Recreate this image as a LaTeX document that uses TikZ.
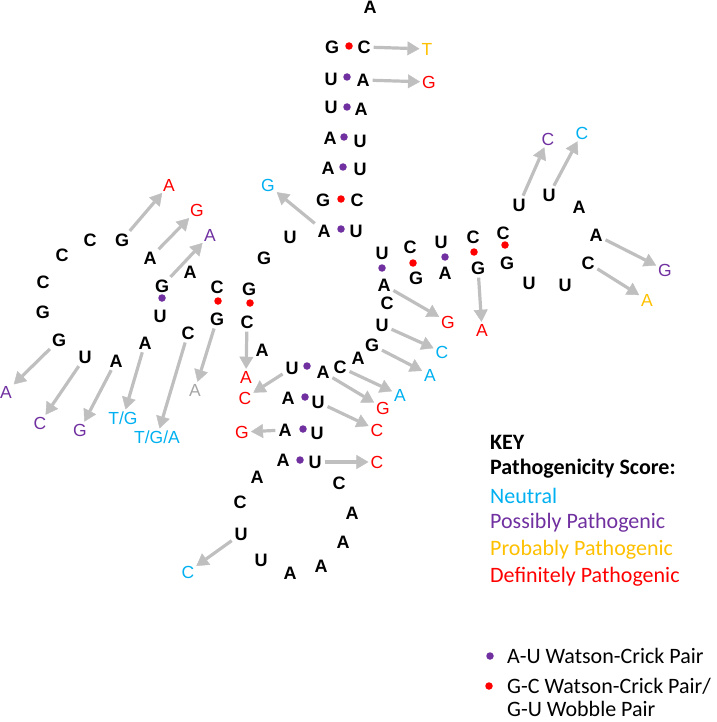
\documentclass[tikz,border=0pt]{standalone}
\usepackage{fontspec}
\setmainfont{Liberation Sans}
\newfontfamily\keyfont{Carlito}
\usepackage{tikz}
\usetikzlibrary{arrows.meta}

\definecolor{neutral}{HTML}{00B0F0}
\definecolor{possibly}{HTML}{7030A0}
\definecolor{probably}{HTML}{FFC000}
\definecolor{definitely}{HTML}{FF0000}
\definecolor{arrowgray}{HTML}{BFBFBF}
\definecolor{lightgray}{HTML}{A6A6A6}

\begin{document}
\begin{tikzpicture}[x=1pt,y=-1pt,
	nt/.style={font=\fontsize{18}{18}\selectfont\bfseries,inner sep=1pt},
	mutlabel/.style={font=\fontsize{17.5}{17.5}\selectfont,inner sep=1pt},
	au/.style={circle,fill=possibly,inner sep=0pt,minimum size=7.5pt},
	gc/.style={circle,fill=definitely,inner sep=0pt,minimum size=7.5pt},
	mutarrow/.style={color=arrowgray,line width=3.2pt,
		-{Triangle[length=12pt,width=14pt,line width=0.4pt,fill=arrowgray]},
		shorten <=2pt,shorten >=1pt},
	keyline/.style={font=\keyfont\fontsize{22}{22}\selectfont,anchor=west,inner sep=0pt}]

	\useasboundingbox (0,0) rectangle (716,722);

	% acceptor stem
	\node[nt] (acA) at (370,7) {A};
	\node[nt] (ac1) at (332,47) {G};
	\node[nt] (ac2) at (331,79) {U};
	\node[nt] (ac3) at (331,107) {U};
	\node[nt] (ac4) at (330,138) {A};
	\node[nt] (ac5) at (328,168) {A};
	\node[nt] (ac6) at (323,200) {G};
	\node[nt] (ac7) at (324,231) {A};
	\node[nt] (ac1r) at (364,47) {C};
	\node[nt] (ac2r) at (363,80) {A};
	\node[nt] (ac3r) at (361,109) {A};
	\node[nt] (ac4r) at (360,141) {U};
	\node[nt] (ac5r) at (360,169) {U};
	\node[nt] (ac6r) at (357,200) {C};
	\node[nt] (ac7r) at (356,231) {U};
	\node[gc] (acd1) at (349,46) {};
	\node[au] (acd2) at (347,77) {};
	\node[au] (acd3) at (347,107) {};
	\node[au] (acd4) at (344,137) {};
	\node[au] (acd5) at (343,167) {};
	\node[gc] (acd6) at (341,199) {};
	\node[au] (acd7) at (341,229) {};

	% left arm
	\node[nt] (l1) at (290,237) {U};
	\node[nt] (l2) at (264,258) {G};
	\node[nt] (dt1) at (249,289) {G};
	\node[nt] (dt2) at (217,287) {C};
	\node[nt] (dt3) at (190,272) {A};
	\node[nt] (dt4) at (162,286) {G};
	\node[nt] (dt5) at (150,258) {A};
	\node[nt] (dl1) at (122,240) {G};
	\node[nt] (dl2) at (90,240) {C};
	\node[nt] (dl3) at (62,255) {C};
	\node[nt] (dl4) at (43,282) {C};
	\node[nt] (dl5) at (43,312) {G};
	\node[nt] (dl6) at (59,340) {G};
	\node[nt] (dl7) at (85,357) {U};
	\node[nt] (dl8) at (116,361) {A};
	\node[nt] (dl9) at (145,343) {A};
	\node[nt] (db1) at (160,316) {U};
	\node[nt] (db2) at (188,333) {C};
	\node[nt] (db3) at (217,319) {G};
	\node[nt] (db4) at (247,322) {C};
	\node[nt] (j1) at (262,350) {A};
	\node[gc] (dd1) at (250,303) {};
	\node[gc] (dd2) at (218,301) {};
	\node[au] (dd3) at (162,298) {};

	% anticodon arm
	\node[nt] (as1) at (292,368) {U};
	\node[nt] (as2) at (288,398) {A};
	\node[nt] (as3) at (285,430) {A};
	\node[nt] (as4) at (283,460) {A};
	\node[nt] (as1r) at (323,372) {A};
	\node[nt] (as2r) at (318,402) {U};
	\node[nt] (as3r) at (317,433) {U};
	\node[nt] (as4r) at (315,462) {U};
	\node[au] (asd1) at (307,366) {};
	\node[au] (asd2) at (305,397) {};
	\node[au] (asd3) at (303,429) {};
	\node[au] (asd4) at (300,460) {};
	\node[nt] (lp1) at (257,477) {A};
	\node[nt] (lp2) at (240,502) {C};
	\node[nt] (lp3) at (241,534) {U};
	\node[nt] (lp4) at (261,560) {U};
	\node[nt] (lp5) at (290,573) {A};
	\node[nt] (lp6) at (321,566) {A};
	\node[nt] (lp7) at (343,542) {A};
	\node[nt] (lp8) at (352,513) {A};
	\node[nt] (lp9) at (339,483) {C};

	% variable region
	\node[nt] (v1) at (340,367) {C};
	\node[nt] (v2) at (358,358) {A};
	\node[nt] (v3) at (372,345) {G};
	\node[nt] (v4) at (382,325) {U};
	\node[nt] (v5) at (387,303) {C};

	% right arm
	\node[nt] (tt1) at (382,253) {U};
	\node[nt] (tt2) at (410,247) {C};
	\node[nt] (tt3) at (441,242) {U};
	\node[nt] (tt4) at (473,237) {C};
	\node[nt] (tt5) at (503,233) {C};
	\node[nt] (tb1) at (384,285) {A};
	\node[nt] (tb2) at (416,278) {G};
	\node[nt] (tb3) at (445,273) {A};
	\node[nt] (tb4) at (478,268) {G};
	\node[nt] (tb5) at (507,263) {G};
	\node[au] (td1) at (382,268) {};
	\node[gc] (td2) at (413,263) {};
	\node[au] (td3) at (445,257) {};
	\node[gc] (td4) at (474,252) {};
	\node[gc] (td5) at (505,245) {};
	\node[nt] (tl1) at (529,283) {U};
	\node[nt] (tl2) at (565,285) {U};
	\node[nt] (tl3) at (588,263) {C};
	\node[nt] (tl4) at (596,235) {A};
	\node[nt] (tl5) at (579,207) {A};
	\node[nt] (tl6) at (549,195) {U};
	\node[nt] (tl7) at (519,205) {U};

	% variants
	\node[mutlabel,text=probably] (m1) at (427,49) {T};
	\node[mutlabel,text=definitely] (m2) at (429,82) {G};
	\node[mutlabel,text=neutral] (m3) at (268,185) {G};
	\node[mutlabel,text=definitely] (m4) at (169,185) {A};
	\node[mutlabel,text=definitely] (m5) at (197,210) {G};
	\node[mutlabel,text=possibly] (m6) at (210,235) {A};
	\node[mutlabel,text=possibly] (m7) at (6,392) {A};
	\node[mutlabel,text=possibly] (m8) at (40,423) {C};
	\node[mutlabel,text=possibly] (m9) at (80,430) {G};
	\node[mutlabel,text=neutral] (m10) at (123,418) {T/G};
	\node[mutlabel,text=neutral] (m11) at (157,437) {T/G/A};
	\node[mutlabel,text=lightgray] (m12) at (195,390) {A};
	\node[mutlabel,text=definitely] (m13) at (246,377) {A};
	\node[mutlabel,text=definitely] (m14) at (245,398) {C};
	\node[mutlabel,text=definitely] (m15) at (242,432) {G};
	\node[mutlabel,text=definitely] (m16) at (377,430) {C};
	\node[mutlabel,text=definitely] (m17) at (383,408) {G};
	\node[mutlabel,text=neutral] (m18) at (400,395) {A};
	\node[mutlabel,text=neutral] (m19) at (430,375) {A};
	\node[mutlabel,text=neutral] (m20) at (442,352) {C};
	\node[mutlabel,text=definitely] (m21) at (448,322) {G};
	\node[mutlabel,text=definitely] (m22) at (377,462) {C};
	\node[mutlabel,text=neutral] (m23) at (188,572) {C};
	\node[mutlabel,text=definitely] (m24) at (482,330) {A};
	\node[mutlabel,text=possibly] (m25) at (548,139) {C};
	\node[mutlabel,text=neutral] (m26) at (582,133) {C};
	\node[mutlabel,text=possibly] (m27) at (665,270) {G};
	\node[mutlabel,text=probably] (m28) at (647,300) {A};

	\path[mutarrow]
	(ac1r) edge (m1)
	(ac2r) edge (m2)
	(ac7) edge (m3)
	(dl1) edge (m4)
	(dt5) edge (m5)
	(dt4) edge (m6)
	(dl6) edge (m7)
	(dl7) edge (m8)
	(dl8) edge (m9)
	(dl9) edge (m10)
	(db2) edge (m11)
	(db3) edge (m12)
	(db4) edge (m13)
	(as1) edge (m14)
	(as3) edge (m15)
	(as2r) edge (m16)
	(as1r) edge (m17)
	(v1) edge (m18)
	(v3) edge (m19)
	(v4) edge (m20)
	(tb1) edge (m21)
	(as4r) edge (m22)
	(lp3) edge (m23)
	(tb4) edge (m24)
	(tl7) edge (m25)
	(tl6) edge (m26)
	(tl4) edge (m27)
	(tl3) edge (m28);

	% key
	\node[keyline,font=\keyfont\bfseries\fontsize{22}{22}\selectfont] (key) at (490,442) {KEY};
	\node[keyline,font=\keyfont\bfseries\fontsize{22}{22}\selectfont] (score) at (490,469) {Pathogenicity Score:};
	\node[keyline,text=neutral] (kn) at (490,496) {Neutral};
	\node[keyline,text=possibly] (kpo) at (490,523) {Possibly Pathogenic};
	\node[keyline,text=probably] (kpr) at (490,550) {Probably Pathogenic};
	\node[keyline,text=definitely] (kd) at (490,577) {Definitely Pathogenic};
	\node[au] (kau) at (490,656) {};
	\node[gc] (kgc) at (489,686) {};
	\node[keyline] (kaut) at (507,656) {A-U Watson-Crick Pair};
	\node[keyline] (kgct) at (507,686) {G-C Watson-Crick Pair/};
	\node[keyline] (kgut) at (507,709) {G-U Wobble Pair};
\end{tikzpicture}
\end{document}
